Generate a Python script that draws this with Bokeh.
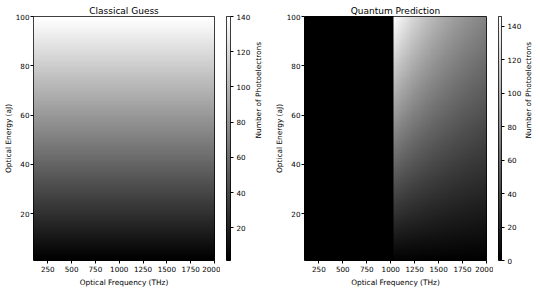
import numpy as np
from bokeh.plotting import figure
from bokeh.layouts import row
from bokeh.models import FixedTicker, LinearColorMapper, Range1d
from bokeh.embed import file_html
from bokeh.resources import INLINE

# ---- data ----
freq_range_THz = [100, 2000]
energy_range_aJ = [1, 100]
freq_ticks = [250, 500, 750, 1000, 1250, 1500, 1750, 2000]
energy_ticks = [20, 40, 60, 80, 100]
classical_cbar_ticks = [20, 40, 60, 80, 100, 120, 140]
quantum_cbar_ticks = [0, 20, 40, 60, 80, 100, 120, 140]
classical_counts_per_aJ = 1.4          # 140 photoelectrons at 100 aJ
threshold_THz = 1035                   # no photoelectrons below this
planck_aJ_per_THz = 6.626e-4           # photon energy (aJ) per THz

titles = ["Classical Guess", "Quantum Prediction"]
xlabel = "Optical Frequency (THz)"
ylabel = "Optical Energy (aJ)"
cbar_label = "Number of Photoelectrons"

# ---- grids ----
freqs = np.linspace(freq_range_THz[0], freq_range_THz[1], 200)
energies = np.linspace(energy_range_aJ[0], energy_range_aJ[1], 100)
F, E = np.meshgrid(freqs, energies)
classical = classical_counts_per_aJ * E
quantum = np.where(F >= threshold_THz, E / (planck_aJ_per_THz * F), 0.0)

FONT = "DejaVu Sans"
TXT = "black"
gray = ["#%02x%02x%02x" % (i, i, i) for i in range(256)]
H = 289
TOP, BOT = 16, 27


def style_axis(ax):
    ax.axis_line_color = None
    ax.minor_tick_line_color = None
    ax.major_tick_in = 0
    ax.major_tick_out = 3
    ax.major_tick_line_color = "black"
    ax.major_label_text_font = FONT
    ax.major_label_text_font_size = "7.2px"
    ax.major_label_text_color = TXT
    ax.major_label_standoff = 1
    ax.axis_label_text_font = FONT
    ax.axis_label_text_font_size = "7.4px"
    ax.axis_label_text_font_style = "normal"
    ax.axis_label_text_color = TXT
    ax.axis_label_standoff = 0


def heat(img, title, left, frame_w, right):
    p = figure(width=left + frame_w + right, height=H, output_backend="svg",
               toolbar_location=None, x_range=Range1d(*freq_range_THz),
               y_range=Range1d(*energy_range_aJ),
               min_border_left=left, min_border_right=right,
               min_border_top=TOP, min_border_bottom=BOT)
    mapper = LinearColorMapper(palette=gray, low=float(img.min()), high=float(img.max()))
    p.image(image=[img], x=freq_range_THz[0], y=energy_range_aJ[0],
            dw=freq_range_THz[1] - freq_range_THz[0],
            dh=energy_range_aJ[1] - energy_range_aJ[0], color_mapper=mapper)
    p.grid.visible = False
    p.outline_line_color = "black"
    p.outline_line_width = 1
    p.title.text = title
    p.title.align = "center"
    p.title.text_font = FONT
    p.title.text_font_size = "9px"
    p.title.text_font_style = "normal"
    p.title.text_color = TXT
    p.title.standoff = 2
    p.title.offset = 0
    p.xaxis.ticker = FixedTicker(ticks=freq_ticks)
    p.yaxis.ticker = FixedTicker(ticks=energy_ticks)
    p.xaxis.axis_label = xlabel
    p.yaxis.axis_label = ylabel
    style_axis(p.xaxis[0])
    style_axis(p.yaxis[0])
    p.xaxis.major_label_standoff = 2
    p.xaxis.axis_label_standoff = 3
    return p, mapper


def cbar(mapper, ticks, left, frame_w, right, lab_standoff):
    lo, hi = mapper.low, mapper.high
    p = figure(width=left + frame_w + right, height=H, output_backend="svg",
               toolbar_location=None, x_range=Range1d(0, 1), y_range=Range1d(lo, hi),
               min_border_left=left, min_border_right=right,
               min_border_top=TOP, min_border_bottom=BOT,
               y_axis_location="right", x_axis_location=None)
    grad = np.linspace(lo, hi, 256).reshape(256, 1)
    p.image(image=[grad], x=0, y=lo, dw=1, dh=hi - lo, color_mapper=mapper)
    p.grid.visible = False
    p.outline_line_color = "black"
    ax = p.yaxis[0]
    ax.ticker = FixedTicker(ticks=ticks)
    style_axis(ax)
    ax.major_label_standoff = 3
    ax.axis_label_standoff = lab_standoff
    ax.axis_label = cbar_label
    ax.axis_label_orientation = np.pi / 2
    return p


p1, m1 = heat(classical, titles[0], 33, 181, 6)
c1 = cbar(m1, classical_cbar_ticks, 6, 11, 33, 5)
p2, m2 = heat(quantum, titles[1], 34, 182, 7)
c2 = cbar(m2, quantum_cbar_ticks, 5, 11, 31, 4)

layout = row(p1, c1, p2, c2, spacing=0)
open("out.html", "w").write(file_html(layout, INLINE))
